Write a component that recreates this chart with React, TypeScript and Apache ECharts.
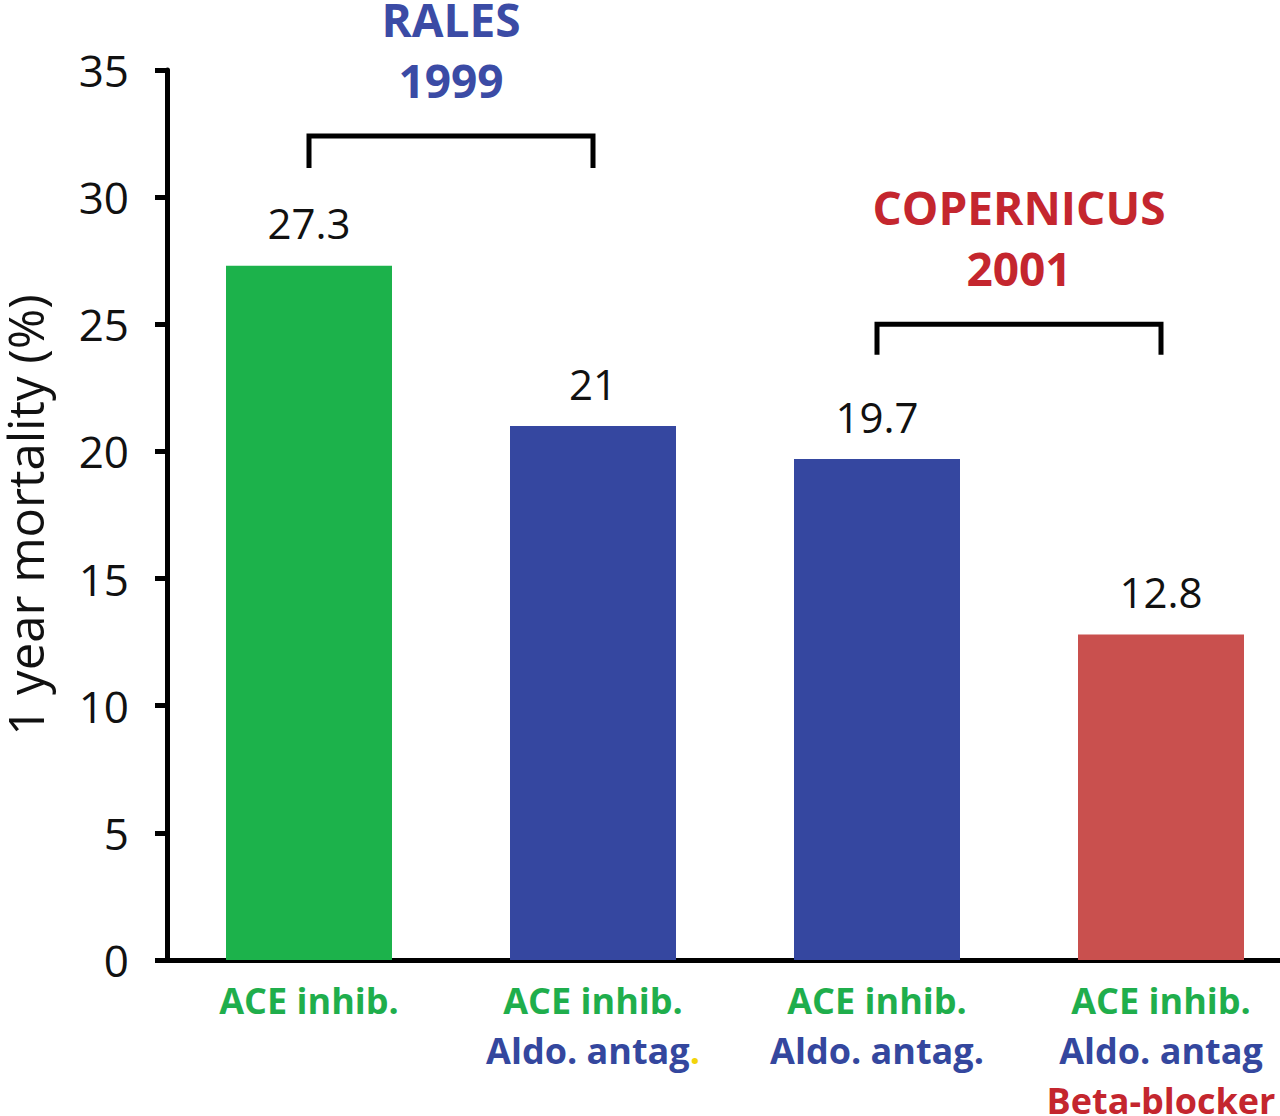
import React, { useEffect, useRef } from "react";
import * as echarts from "echarts";

// ---- Data ----
const categoryLines: string[][] = [
  ["ACE inhib."],
  ["ACE inhib.", "Aldo. antag."],
  ["ACE inhib.", "Aldo. antag."],
  ["ACE inhib.", "Aldo. antag", "Beta-blocker"],
];
const mortality: number[] = [27.3, 21, 19.7, 12.8];
const barColors: string[] = ["#1cb24b", "#3547a0", "#3547a0", "#c9504e"];
const yTicks = { min: 0, max: 35, interval: 5 };

const studyNames: string[] = ["RALES", "COPERNICUS"];
const studyYears: string[] = ["1999", "2001"];
const studyColors: string[] = ["#3b4ba5", "#c4262e"];
const bracketStart: number[] = [0, 2];
const bracketEnd: number[] = [1, 3];
const bracketTop: number[] = [32.4, 25];
const bracketLeg: number[] = [31.15, 23.8];

const FONT = "'Open Sans', 'Noto Sans', sans-serif";
const lineStyleKeys = ["g", "b", "r"];

export default function App() {
  const ref = useRef<HTMLDivElement>(null);

  useEffect(() => {
    document.body.style.margin = "0";
    if (!ref.current) return;
    const chart = echarts.init(ref.current, undefined, { renderer: "svg" });

    const option: any = {
      animation: false,
      backgroundColor: "#ffffff",
      grid: {
        left: 167,
        right: -23,
        top: 70,
        bottom: 156,
        containLabel: false,
        outerBoundsMode: "none",
      },
      xAxis: {
        type: "category",
        data: categoryLines.map((l) => l.join("\n")),
        axisLine: { show: true, lineStyle: { color: "#000", width: 5 } },
        axisTick: { show: false },
        axisLabel: {
          interval: 0,
          margin: 15,
          formatter: (_v: string, idx: number) =>
            categoryLines[idx]
              .map((line, li) => {
                const key = lineStyleKeys[li];
                if (line.endsWith(".") && li === 1 && idx === 1) {
                  return `{${key}|${line.slice(0, -1)}}{y|.}`;
                }
                return `{${key}|${line}}`;
              })
              .join("\n"),
          rich: {
            g: { color: "#1fae4c", fontSize: 36, fontWeight: "bold", fontFamily: FONT, lineHeight: 50 },
            b: { color: "#34479e", fontSize: 36, fontWeight: "bold", fontFamily: FONT, lineHeight: 50 },
            r: { color: "#c4262e", fontSize: 36, fontWeight: "bold", fontFamily: FONT, lineHeight: 50 },
            y: { color: "#f2d40a", fontSize: 36, fontWeight: "bold", fontFamily: FONT, lineHeight: 50 },
          },
        },
      },
      yAxis: {
        type: "value",
        min: yTicks.min,
        max: yTicks.max,
        interval: yTicks.interval,
        name: "1 year mortality (%)",
        nameLocation: "middle",
        nameRotate: 90,
        nameGap: 116,
        nameTextStyle: { fontSize: 49, color: "#111", fontFamily: FONT, lineHeight: 52 },
        axisLine: { show: true, lineStyle: { color: "#000", width: 5 } },
        axisTick: { show: true, inside: false, length: 12, lineStyle: { color: "#000", width: 5 } },
        splitLine: { show: false },
        axisLabel: { fontSize: 44, color: "#111", fontFamily: FONT, margin: 38 },
      },
      series: [
        {
          type: "bar",
          barWidth: 166,
          data: mortality.map((v, i) => ({ value: v, itemStyle: { color: barColors[i] } })),
          label: {
            show: true,
            position: "top",
            distance: 22,
            fontSize: 42,
            color: "#111",
            fontFamily: FONT,
          },
        },
        {
          type: "custom",
          z: 10,
          data: bracketStart.map((s, i) => [s, bracketTop[i]]),
          renderItem: (params: any, api: any) => {
            const i = params.dataIndex;
            const pL = api.coord([bracketStart[i], bracketTop[i]]);
            const pR = api.coord([bracketEnd[i], bracketTop[i]]);
            const legL = api.coord([bracketStart[i], bracketLeg[i]]);
            const legR = api.coord([bracketEnd[i], bracketLeg[i]]);
            const cx = (pL[0] + pR[0]) / 2;
            const ty = pL[1];
            return {
              type: "group",
              children: [
                {
                  type: "polyline",
                  shape: { points: [legL, pL, pR, legR] },
                  style: { stroke: "#000", lineWidth: 5, fill: "none" },
                },
                {
                  type: "text",
                  style: {
                    text: studyYears[i],
                    x: cx,
                    y: ty - 56,
                    align: "center",
                    verticalAlign: "middle",
                    fill: studyColors[i],
                    fontSize: 46,
                    fontWeight: "bold",
                    fontFamily: FONT,
                  },
                },
                {
                  type: "text",
                  style: {
                    text: studyNames[i],
                    x: cx,
                    y: ty - 117,
                    align: "center",
                    verticalAlign: "middle",
                    fill: studyColors[i],
                    fontSize: 46,
                    fontWeight: "bold",
                    fontFamily: FONT,
                  },
                },
              ],
            };
          },
        },
      ],
    };

    chart.setOption(option);
    return () => chart.dispose();
  }, []);

  return <div ref={ref} style={{ width: 1280, height: 1116 }} />;
}
